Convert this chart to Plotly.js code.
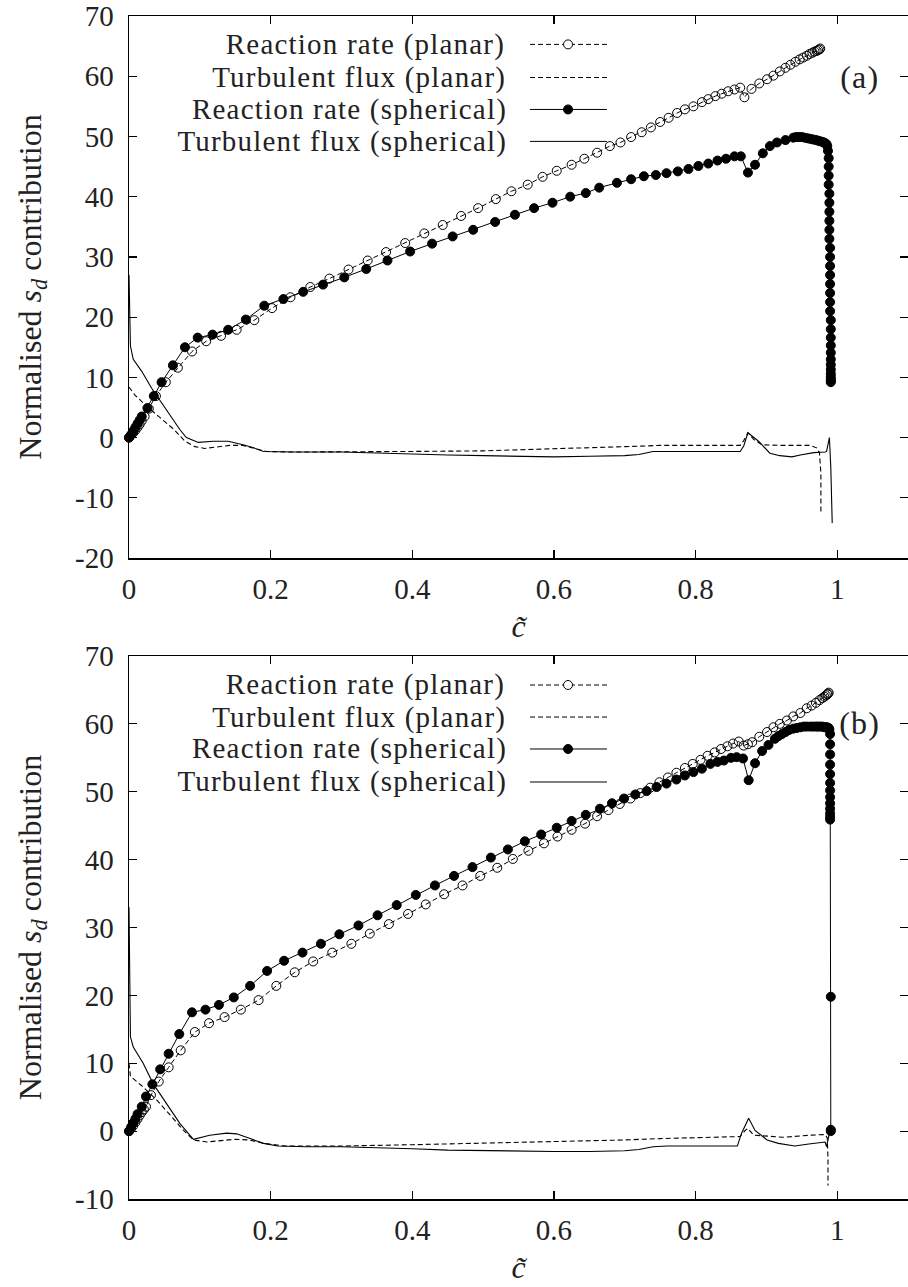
<!DOCTYPE html>
<html>
<head>
<meta charset="utf-8">
<script src="https://cdn.plot.ly/plotly-3.0.1.min.js"></script>
<style>
body{margin:0;padding:0;background:#fff;} #chart{width:908px;height:1287px;}
#chart .annotation-text{letter-spacing:1.2px;}
</style>
</head>
<body>
<div id="chart"></div>
<script>
// ---------- Panel (a) ----------
const aPlanarRR_x = [0,0.003,0.006,0.009,0.012,0.015,0.018,0.022,0.028,0.038,0.052,0.069,0.089,0.109,0.130,0.152,0.177,0.202,0.228,0.256,0.283,0.310,0.337,0.363,0.390,0.417,0.443,0.469,0.493,0.518,0.540,0.563,0.584,0.604,0.625,0.643,0.661,0.679,0.694,0.709,0.724,0.737,0.750,0.762,0.774,0.785,0.797,0.809,0.818,0.828,0.837,0.846,0.855,0.863,0.869,0.879,0.890,0.901,0.910,0.919,0.927,0.934,0.941,0.947,0.952,0.957,0.961,0.965,0.968,0.971,0.973,0.975,0.976];
const aPlanarRR_y = [0,0.4,0.8,1.2,1.7,2.2,2.8,3.5,4.8,6.9,9.2,11.6,14.3,16.0,16.9,17.9,19.5,21.5,23.3,25.0,26.4,27.9,29.4,30.8,32.3,33.9,35.3,36.8,38.1,39.6,40.9,42.0,43.3,44.3,45.3,46.3,47.3,48.4,49.0,49.9,50.7,51.5,52.4,53.1,53.9,54.5,55.0,55.7,56.2,56.7,57.1,57.5,57.8,58.1,56.5,57.9,58.8,59.5,60.1,60.8,61.4,61.9,62.4,62.8,63.1,63.4,63.7,63.9,64.1,64.2,64.35,64.45,64.6];

const aSphRR_x = [0,0.003,0.006,0.009,0.012,0.015,0.018,0.026,0.035,0.046,0.062,0.079,0.097,0.118,0.140,0.165,0.191,0.218,0.246,0.274,0.304,0.335,0.365,0.397,0.428,0.457,0.486,0.517,0.545,0.572,0.598,0.623,0.645,0.664,0.689,0.709,0.727,0.744,0.759,0.775,0.790,0.804,0.818,0.831,0.843,0.855,0.864,0.874,0.884,0.895,0.905,0.915,0.927,0.938,0.942,0.946,0.950,0.954,0.958,0.962,0.966,0.970,0.973,0.976,0.979,0.981,0.983,0.985,0.986,0.987,0.988,0.988,0.988,0.988,0.989,0.989,0.989,0.989,0.989,0.989,0.990,0.990,0.990,0.990,0.990,0.990,0.990,0.990,0.991,0.991,0.991,0.991,0.991,0.991];
const aSphRR_y = [0,0.5,1.1,1.7,2.3,2.9,3.5,4.9,6.9,9.2,12.0,15.0,16.6,17.1,17.9,19.6,21.9,23.0,24.2,25.4,26.6,28.0,29.4,30.9,32.2,33.4,34.5,35.8,37.0,38.1,39.0,40.0,40.6,41.5,42.3,42.9,43.4,43.6,43.9,44.2,44.6,45.1,45.5,46.0,46.3,46.7,46.7,44.0,45.3,47.2,48.4,49.0,49.4,49.8,49.9,49.9,49.9,49.8,49.7,49.6,49.5,49.4,49.3,49.2,49.1,49.0,48.9,48.7,48.4,47.6,46.4,45.0,43.5,42.0,40.5,39.0,37.5,36.0,34.5,33.0,31.5,30.0,28.5,27.0,25.5,24.0,22.5,21.0,19.5,18.0,16.6,15.3,14.1,13.0];
const aSphRR_x2 = [0.991,0.991,0.991,0.991,0.991,0.991,0.991];
const aSphRR_y2 = [12.1,11.3,10.6,10.1,9.7,9.4,9.2];

const aPlanarTF_x = [0,0.008,0.025,0.044,0.063,0.079,0.093,0.107,0.124,0.142,0.161,0.176,0.194,0.232,0.30,0.40,0.50,0.60,0.70,0.75,0.807,0.863,0.868,0.874,0.882,0.894,0.924,0.962,0.971,0.975,0.977,0.977];
const aPlanarTF_y = [8.4,7.1,5.2,3.3,1.4,-0.6,-1.5,-1.8,-1.6,-1.3,-1.3,-1.7,-2.3,-2.4,-2.4,-2.3,-2.2,-1.9,-1.5,-1.3,-1.3,-1.3,-0.5,0.8,-0.3,-1.2,-1.3,-1.3,-1.7,-2.5,-6.0,-12.5];

const aSphTF_x = [0,0.0005,0.001,0.002,0.006,0.018,0.032,0.046,0.060,0.072,0.081,0.098,0.119,0.140,0.161,0.176,0.190,0.232,0.30,0.35,0.40,0.45,0.50,0.55,0.60,0.65,0.70,0.72,0.74,0.76,0.807,0.863,0.868,0.874,0.889,0.905,0.919,0.936,0.948,0.967,0.983,0.985,0.989,0.991,0.993];
const aSphTF_y = [27,22,18,15.2,13.0,11.0,8.2,5.8,3.3,1.3,0.0,-0.8,-0.6,-0.6,-1.2,-1.7,-2.3,-2.4,-2.4,-2.6,-2.8,-2.9,-3.0,-3.1,-3.2,-3.1,-3.0,-2.8,-2.3,-2.3,-2.3,-2.3,-1.4,0.8,-0.6,-2.6,-3.0,-3.2,-2.9,-2.5,-2.4,-2.3,0.0,-5.0,-14.2];

// ---------- Panel (b) ----------
const bPlanarRR_x = [0,0.003,0.006,0.009,0.012,0.015,0.018,0.021,0.024,0.031,0.042,0.056,0.073,0.093,0.113,0.135,0.158,0.183,0.208,0.234,0.260,0.287,0.314,0.340,0.367,0.394,0.419,0.445,0.471,0.496,0.520,0.542,0.564,0.586,0.605,0.625,0.644,0.661,0.677,0.693,0.708,0.722,0.736,0.749,0.761,0.773,0.785,0.796,0.807,0.817,0.827,0.836,0.845,0.853,0.861,0.868,0.874,0.880,0.890,0.901,0.910,0.919,0.929,0.938,0.948,0.957,0.964,0.970,0.975,0.979,0.982,0.984,0.986,0.987,0.988];
const bPlanarRR_y = [0,0.4,0.8,1.3,1.8,2.3,2.8,3.2,3.6,5.3,7.3,9.4,11.9,14.6,15.9,16.8,17.9,19.3,21.4,23.4,25.0,26.3,27.6,29.1,30.5,32.0,33.4,34.9,36.2,37.6,38.8,40.1,41.3,42.4,43.4,44.4,45.3,46.4,47.3,48.2,49.0,49.8,50.6,51.4,52.1,52.8,53.5,54.1,54.7,55.3,55.8,56.3,56.7,57.1,57.4,56.8,57.0,57.3,58.1,58.8,59.5,60.0,60.5,61.1,61.6,62.3,62.7,63.1,63.5,63.8,64.0,64.2,64.35,64.45,64.6];

const bSphRR_x = [0,0.003,0.006,0.009,0.012,0.018,0.024,0.033,0.044,0.056,0.071,0.089,0.108,0.127,0.148,0.171,0.195,0.219,0.245,0.271,0.297,0.324,0.351,0.378,0.405,0.432,0.459,0.485,0.511,0.535,0.559,0.582,0.604,0.625,0.645,0.665,0.682,0.699,0.715,0.731,0.745,0.759,0.773,0.785,0.797,0.809,0.821,0.831,0.840,0.850,0.858,0.867,0.875,0.884,0.894,0.903,0.912,0.917,0.922,0.927,0.932,0.938,0.943,0.948,0.953,0.957,0.962,0.966,0.970,0.973,0.976,0.979,0.982,0.984,0.986,0.988,0.989,0.990,0.990,0.990,0.990,0.990,0.990,0.990,0.990,0.990,0.990,0.990,0.990,0.990,0.991,0.991,0.991];
const bSphRR_y = [0,0.6,1.2,1.8,2.5,3.6,5.1,6.9,9.1,11.4,14.3,17.5,17.9,18.6,19.7,21.4,23.6,25.1,26.3,27.6,29.0,30.3,31.8,33.3,34.8,36.2,37.6,38.9,40.3,41.5,42.7,43.7,44.7,45.7,46.6,47.5,48.3,49.0,49.6,50.1,50.7,51.2,51.8,52.4,52.9,53.4,54.1,54.4,54.6,55.0,55.1,54.9,51.7,54.2,56.0,56.9,57.8,58.2,58.5,58.8,59.1,59.3,59.4,59.5,59.6,59.6,59.6,59.6,59.6,59.6,59.6,59.6,59.5,59.5,59.5,59.4,59.2,58.5,57.0,55.5,54.0,52.6,51.3,50.2,49.2,48.3,47.5,46.8,46.3,45.9,19.8,0.2,0.0];

const bPlanarTF_x = [0,0.002,0.020,0.039,0.058,0.077,0.091,0.11,0.13,0.15,0.17,0.19,0.22,0.30,0.40,0.50,0.60,0.70,0.75,0.807,0.863,0.870,0.874,0.882,0.924,0.962,0.983,0.986,0.987,0.987];
const bPlanarTF_y = [10,8.1,6.5,4.6,2.4,0.1,-1.3,-1.6,-1.4,-1.2,-1.3,-1.8,-2.2,-2.2,-2.0,-1.8,-1.6,-1.3,-1.1,-1.0,-0.8,0.1,0.4,-0.6,-0.9,-0.6,-0.5,-1.0,-4.0,-8.0];

const bSphTF_x = [0,0.0005,0.001,0.002,0.006,0.020,0.034,0.053,0.072,0.091,0.114,0.138,0.152,0.171,0.19,0.21,0.25,0.30,0.35,0.40,0.45,0.50,0.55,0.60,0.65,0.70,0.72,0.74,0.76,0.807,0.859,0.865,0.875,0.884,0.901,0.917,0.94,0.96,0.983,0.985,0.990];
const bSphTF_y = [33,25,19,13.9,12.4,10.0,7.0,4.1,1.1,-1.2,-0.6,-0.3,-0.4,-1.1,-1.8,-2.2,-2.3,-2.3,-2.4,-2.6,-2.8,-2.9,-3.0,-3.0,-3.0,-2.9,-2.7,-2.3,-2.2,-2.2,-2.2,-0.3,1.9,0.1,-1.3,-1.8,-2.2,-1.9,-1.6,-2.3,0.2];

const legendLabels = ["Reaction rate (planar)","Turbulent flux (planar)","Reaction rate (spherical)","Turbulent flux (spherical)"];
const panelLabels = ["(a)","(b)"];
const xTicks = [0,0.2,0.4,0.6,0.8,1];
const xTickText = ["0","0.2","0.4","0.6","0.8","1"];
const yTicksA = [-20,-10,0,10,20,30,40,50,60,70];
const yTicksB = [-10,0,10,20,30,40,50,60,70];

const FONT = "Liberation Serif, DejaVu Serif, serif";
const TICKFS = 29;
const TEXTFS = 32;
const LEGFS = 29;
const TXT = '#222';

function rr(x, y, open, xa, ya){
  return {x:x, y:y, xaxis:xa, yaxis:ya, type:'scatter', mode:'lines+markers', cliponaxis:false,
    line:{color:'black', width:1, dash: open ? '5px,3px' : 'solid'},
    marker:{symbol: open ? 'circle-open' : 'circle', size:9, color:'black', line:{color:'black', width:1}},
    showlegend:false};
}
function tf(x, y, dashed, xa, ya){
  return {x:x, y:y, xaxis:xa, yaxis:ya, type:'scatter', mode:'lines', cliponaxis:false,
    line:{color:'black', width:1.1, dash: dashed ? '5px,3px' : 'solid'}, showlegend:false};
}

const traces = [
  tf(aPlanarTF_x, aPlanarTF_y, true, 'x', 'y'),
  tf(aSphTF_x, aSphTF_y, false, 'x', 'y'),
  rr(aPlanarRR_x, aPlanarRR_y, true, 'x', 'y'),
  rr(aSphRR_x.concat(aSphRR_x2), aSphRR_y.concat(aSphRR_y2), false, 'x', 'y'),
  tf(bPlanarTF_x, bPlanarTF_y, true, 'x2', 'y2'),
  tf(bSphTF_x, bSphTF_y, false, 'x2', 'y2'),
  rr(bPlanarRR_x, bPlanarRR_y, true, 'x2', 'y2'),
  rr(bSphRR_x, bSphRR_y, false, 'x2', 'y2')
];

function xax(anchor){
  return {anchor:anchor, domain:[0,1], range:[0,1.1], tickvals:xTicks, ticktext:xTickText,
    ticks:'inside', ticklen:8, tickwidth:1.2, tickcolor:'black', mirror:'ticks', showline:true, linewidth:1.5, linecolor:'black',
    showgrid:false, zeroline:false, tickfont:{family:FONT, size:TICKFS, color:TXT}, ticklabelstandoff:5,
    title:{text:'<i>c̃</i>', font:{family:FONT, size:TEXTFS, color:TXT}, standoff:10}};
}
function yax(anchor, dom, range, tv){
  return {anchor:anchor, domain:dom, range:range, tickvals:tv, ticktext:tv.map(v => String(v)),
    ticks:'inside', ticklen:8, tickwidth:1.2, tickcolor:'black', mirror:'ticks', showline:true, linewidth:1.5, linecolor:'black',
    showgrid:false, zeroline:false, tickfont:{family:FONT, size:TICKFS, color:TXT}, ticklabelstandoff:8,
    title:{text:'Normalised <i>s<sub>d</sub></i> contribution', font:{family:FONT, size:TEXTFS, color:TXT}, standoff:24}};
}

// legend (drawn as annotations + shapes, text left of sample as in original)
const legRowsA = [0.976, 0.948, 0.921, 0.894];
const legRowsB = [0.4345, 0.4074, 0.3804, 0.3525];
const annotations = [];
const shapes = [];
function addLegend(rows){
  rows.forEach((yy, i) => {
    annotations.push({xref:'paper', yref:'paper', x:0.467, y:yy, xanchor:'right', yanchor:'middle', showarrow:false,
      borderpad:0, text:legendLabels[i], font:{family:FONT, size:LEGFS, color:TXT}});
    shapes.push({type:'line', xref:'paper', yref:'paper', x0:0.5148, x1:0.6136, y0:yy, y1:yy,
      line:{color:'black', width:1, dash:(i<2)?'5px,3px':'solid'}});
    if (i===0 || i===2) {
      shapes.push({type:'circle', xref:'paper', yref:'paper', xsizemode:'pixel', ysizemode:'pixel',
        xanchor:0.5636, yanchor:yy, x0:-4.5, x1:4.5, y0:-4.5, y1:4.5,
        fillcolor:(i===0)?'white':'black', line:{color:'black', width:1}});
    }
  });
}
addLegend(legRowsA);
addLegend(legRowsB);
annotations.push({xref:'paper', yref:'paper', x:0.938, y:0.9484, xanchor:'center', yanchor:'middle', showarrow:false,
  text:panelLabels[0], font:{family:FONT, size:TEXTFS, color:TXT}});
annotations.push({xref:'paper', yref:'paper', x:0.938, y:0.4024, xanchor:'center', yanchor:'middle', showarrow:false,
  text:panelLabels[1], font:{family:FONT, size:TEXTFS, color:TXT}});

const layout = {
  width:908, height:1287, margin:{l:129, r:0, t:16, b:88},
  paper_bgcolor:'white', plot_bgcolor:'white', showlegend:false,
  xaxis:xax('y'), yaxis:yax('x', [0.5418,1], [-20,70], yTicksA),
  xaxis2:xax('y2'), yaxis2:yax('x2', [0,0.459], [-10,70], yTicksB),
  annotations:annotations, shapes:shapes
};

Plotly.newPlot('chart', traces, layout, {staticPlot:true, displayModeBar:false});
</script>
</body>
</html>
